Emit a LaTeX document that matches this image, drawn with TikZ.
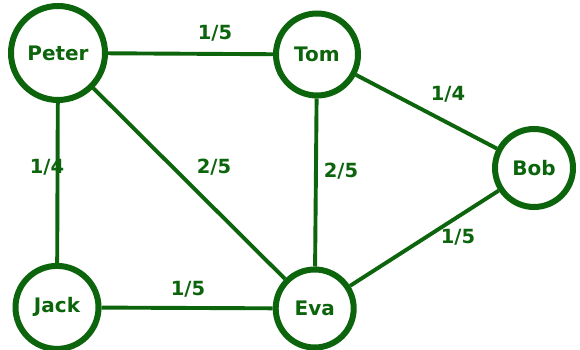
\documentclass[tikz,border=0pt]{standalone}
\usepackage{fontspec}
\setmainfont{DejaVu Sans}
\definecolor{gr}{RGB}{12,100,12}
\begin{document}
\begin{tikzpicture}[x=1pt,y=1pt,
  person/.style={circle,draw=gr,fill=white,line width=6pt,inner sep=0pt,text=gr,font=\fontsize{20}{23}\selectfont\bfseries},
  link/.style={draw=gr,line width=3.9pt},
  wt/.style={text=gr,inner sep=0pt,font=\fontsize{19.5}{23}\selectfont\bfseries}]
\useasboundingbox (0,0) rectangle (580,350);
\node[person,minimum size=94pt] (peter) at (58,297) {Peter};
\node[person,minimum size=82pt] (tom) at (317,295.5) {Tom};
\node[person,minimum size=78pt] (bob) at (534,182) {Bob};
\node[person,minimum size=83pt] (jack) at (57,42.6) {Jack};
\node[person,minimum size=78pt] (eva) at (314.7,41.5) {Eva};
\draw[link] (peter) -- (tom);
\draw[link] (peter) -- (jack);
\draw[link] (peter) -- (eva);
\draw[link] (tom) -- (eva);
\draw[link] (tom) -- (bob);
\draw[link] (jack) -- (eva);
\draw[link] (eva) -- (bob);
\node[wt] (l1) at (215,316.5) {1/5};
\node[wt] (l2) at (448,255.5) {1/4};
\node[wt] (l3) at (47,183) {1/4};
\node[wt] (l4) at (214,183) {2/5};
\node[wt] (l5) at (341,179) {2/5};
\node[wt] (l6) at (458,113) {1/5};
\node[wt] (l7) at (188,60.5) {1/5};
\end{tikzpicture}
\end{document}
